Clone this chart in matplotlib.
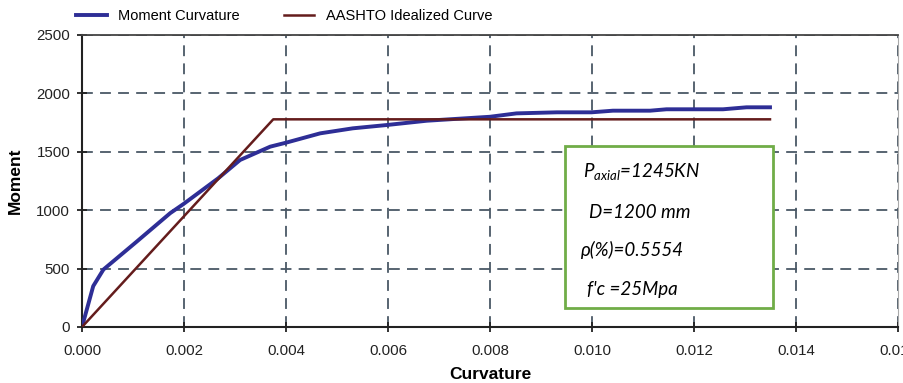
import matplotlib
matplotlib.use("Agg")
import matplotlib.pyplot as plt
from matplotlib.patches import Rectangle

plt.rcParams['font.family'] = ['Liberation Sans', 'DejaVu Sans']
plt.rcParams['mathtext.fontset'] = 'custom'
plt.rcParams['mathtext.it'] = 'Lato:italic'
plt.rcParams['mathtext.rm'] = 'Lato'

# Moment curvature data
mc_curv = [0.0, 0.00022, 0.00042, 0.00107, 0.00173, 0.00199, 0.00267, 0.0031,
           0.00369, 0.0040, 0.00467, 0.00531, 0.00597, 0.00676, 0.0080, 0.00852,
           0.00931, 0.00999, 0.01041, 0.01114, 0.01146, 0.01257, 0.01303, 0.01349]
mc_moment = [0, 350, 492, 730, 975, 1053, 1273, 1430,
             1544, 1578, 1658, 1701, 1729, 1766, 1800, 1829,
             1838, 1838, 1852, 1852, 1864, 1864, 1881, 1881]

# AASHTO idealized curve
id_curv = [0.0, 0.00375, 0.01349]
id_moment = [0, 1778, 1778]

xticks = [0.000, 0.002, 0.004, 0.006, 0.008, 0.010, 0.012, 0.014, 0.016]
xticklabels = ['0.000', '0.002', '0.004', '0.006', '0.008', '0.010', '0.012', '0.014', '0.016']
yticks = [0, 500, 1000, 1500, 2000, 2500]

info_lines = [r'$P_{axial}$=1245KN', 'D=1200 mm', 'ρ(%)=0.5554', "f'c =25Mpa"]

fig = plt.figure(figsize=(9.04, 3.83), dpi=100)
ax = fig.add_axes([82/904, 1-327/383, (898-82)/904, (327-35)/383])

ax.plot(mc_curv, mc_moment, color='#2e2e96', lw=2.8, label='Moment Curvature', zorder=3)
ax.plot(id_curv, id_moment, color='#641c1c', lw=1.8, label='AASHTO Idealized Curve', zorder=4)

ax.set_xlim(0, 0.016)
ax.set_ylim(0, 2500)
ax.set_xticks(xticks)
ax.set_xticklabels(xticklabels)
ax.set_yticks(yticks)
ax.grid(True, color='#4a5866', ls=(0, (6, 4)), lw=1.3)
ax.set_axisbelow(True)
ax.tick_params(direction='inout', length=7, width=1.3, labelsize=10.8, colors='#222222')
ax.tick_params(axis='x', pad=9)
ax.tick_params(axis='y', pad=5)
for s in ['left', 'bottom']:
    ax.spines[s].set_linewidth(1.5)
    ax.spines[s].set_color('#222222')
ax.spines['top'].set_linewidth(1.3)
ax.spines['top'].set_color('#444444')
ax.spines['right'].set_linewidth(0.8)
ax.spines['right'].set_color('#aaaaaa')

ax.set_xlabel('Curvature', fontsize=12.5, fontweight='bold', labelpad=6)
ax.set_ylabel('Moment', fontsize=12.5, fontweight='bold', labelpad=10)

fig.legend(loc='upper left', bbox_to_anchor=(63/904, 1.01), ncol=2, frameon=False,
           fontsize=10.5, handlelength=2.1, handletextpad=0.8, columnspacing=3.0)

rect = Rectangle((565/904, 1-308/383), 208/904, 162/383, transform=fig.transFigure,
                 facecolor='white', edgecolor='#70ad47', lw=2, zorder=5)
fig.patches.append(rect)

ys = [172, 212, 250, 290]
xs = [583, 589, 581, 587]
for t, x, y in zip(info_lines, xs, ys):
    fig.text(x/904, 1-y/383, t, fontsize=13.5, family='Lato', style='italic',
             va='center', ha='left', zorder=6)

fig.savefig('out.png', dpi=100)
